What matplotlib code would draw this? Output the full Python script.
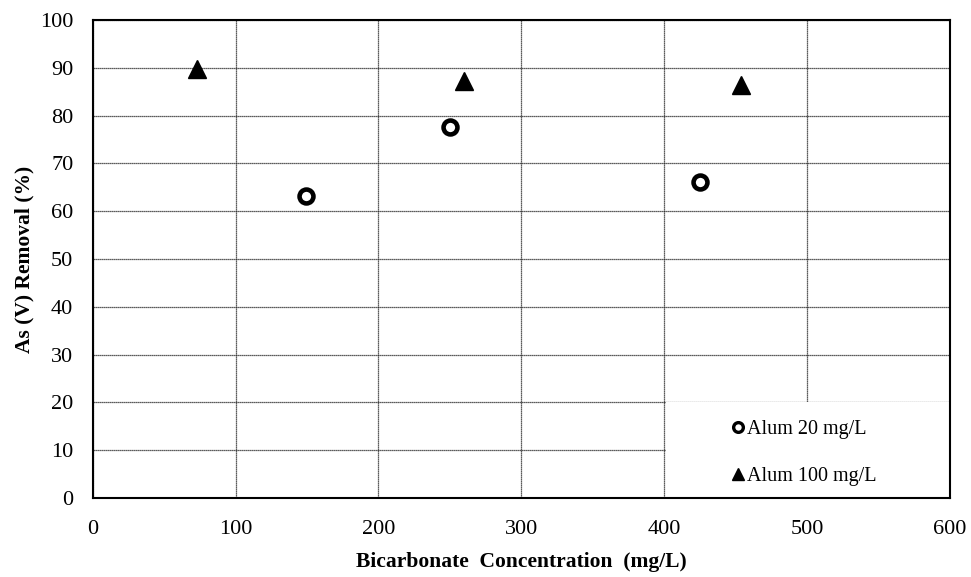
import matplotlib
matplotlib.use("Agg")
import matplotlib.pyplot as plt
from matplotlib.patches import Rectangle

# data
bicarb_20 = [149, 250, 425]
removal_20 = [63.1, 77.6, 66.1]

bicarb_100 = [73, 260, 454]
removal_100 = [89.8, 87.3, 86.4]

x_ticks = [0, 100, 200, 300, 400, 500, 600]
y_ticks = [0, 10, 20, 30, 40, 50, 60, 70, 80, 90, 100]

plt.rcParams["font.family"] = ["Liberation Serif", "DejaVu Serif"]

fig = plt.figure(figsize=(9.71, 5.77), dpi=100)
ax = fig.add_axes([0.0955, 0.1369, 0.8829, 0.8284])

ax.plot(bicarb_20, removal_20, linestyle="none", marker="o", ms=10,
        mfc="white", mec="black", mew=3.3, label="Alum 20 mg/L", zorder=5)
ax.plot(bicarb_100, removal_100, linestyle="none", marker="^", ms=13,
        color="black", label="Alum 100 mg/L", zorder=5)

ax.set_xlim(0, 600)
ax.set_ylim(0, 100)
ax.set_xticks(x_ticks)
ax.set_yticks(y_ticks)
ax.tick_params(length=0, labelsize=16, pad=14)
ax.tick_params(axis="x", pad=16)

ax.grid(True, color="0.15", linestyle=(0, (1, 0.6)), linewidth=0.9)
ax.set_axisbelow(True)
for s in ax.spines.values():
    s.set_linewidth(1.5)
    s.set_color("black")

ax.set_xlabel("Bicarbonate  Concentration  (mg/L)", fontsize=15.5,
              fontweight="bold", labelpad=9)
ax.set_ylabel("As (V) Removal (%)", fontsize=15.5, fontweight="bold", labelpad=4)

# white legend box over lower right corner, as in the original
ax.add_patch(Rectangle((2 / 3 + 0.002, 0), 1 / 3, 0.2, transform=ax.transAxes,
                       facecolor="white", edgecolor="none", zorder=1))
leg = ax.legend(loc="center", bbox_to_anchor=(0.83, 0.094), frameon=False,
                fontsize=14.5, markerscale=0.7, handlelength=0.6,
                handletextpad=0.15, labelspacing=1.4)
leg.set_zorder(6)
leg.legend_handles[0].set_markeredgewidth(2.4)

fig.savefig("out.png", dpi=100)
